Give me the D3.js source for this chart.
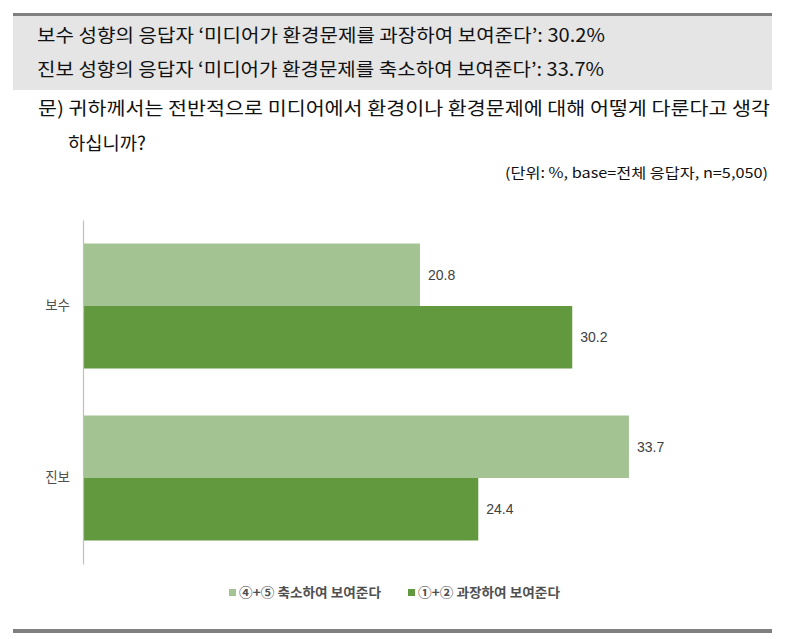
<!DOCTYPE html>
<html><head><meta charset="utf-8">
<script src="https://cdn.jsdelivr.net/npm/d3@7"></script>
<style>
html,body{margin:0;padding:0;background:#fff;}
svg{display:block;font-family:"Noto Sans CJK KR","Noto Sans",sans-serif;}
</style></head>
<body>
<script>
const categories = ["보수", "진보"];
const seriesNames = ["④+⑤ 축소하여 보여준다", "①+② 과장하여 보여준다"];
const reduceValues = [20.8, 33.7];
const exaggerateValues = [30.2, 24.4];
const headerLines = [
  "보수 성향의 응답자 ‘미디어가 환경문제를 과장하여 보여준다’: 30.2%",
  "진보 성향의 응답자 ‘미디어가 환경문제를 축소하여 보여준다’: 33.7%"
];
const questionLines = [
  "문) 귀하께서는 전반적으로 미디어에서 환경이나 환경문제에 대해 어떻게 다룬다고 생각",
  "하십니까?"
];
const unitNote = "(단위: %, base=전체 응답자, n=5,050)";

const W = 787, H = 639;
const colors = ["#a3c492", "#62993e"];
const svg = d3.select("body").append("svg").attr("width", W).attr("height", H);

// header box
svg.append("rect").attr("x", 13).attr("y", 16).attr("width", 759).attr("height", 74).attr("fill", "#e5e5e5");
svg.append("rect").attr("x", 13).attr("y", 13).attr("width", 759).attr("height", 3).attr("fill", "#808080");
svg.append("rect").attr("x", 13).attr("y", 629).attr("width", 759).attr("height", 4).attr("fill", "#808080");

const headerY = [42, 76];
const headerW = [568, 567];
headerLines.forEach((t, i) => {
  svg.append("text").attr("x", 37).attr("y", headerY[i]).attr("font-size", 18.5)
    .attr("fill", "#111").attr("textLength", headerW[i]).attr("lengthAdjust", "spacingAndGlyphs").text(t);
});
svg.append("text").attr("x", 38).attr("y", 115).attr("font-size", 18.5).attr("fill", "#111")
  .attr("textLength", 732).attr("lengthAdjust", "spacingAndGlyphs").text(questionLines[0]);
svg.append("text").attr("x", 68).attr("y", 150).attr("font-size", 18.5).attr("fill", "#111")
  .attr("textLength", 78).attr("lengthAdjust", "spacingAndGlyphs").text(questionLines[1]);
svg.append("text").attr("x", 768).attr("y", 178).attr("font-size", 14).attr("fill", "#111")
  .attr("text-anchor", "end").attr("textLength", 263).attr("lengthAdjust", "spacingAndGlyphs").text(unitNote);

// chart
const x = d3.scaleLinear().domain([0, 40]).range([83, 731]);
const y = d3.scaleBand().domain(categories).range([220, 564]).paddingInner(0.2733).paddingOuter(0.1367);
const y1 = d3.scaleBand().domain([0, 1]).range([0, y.bandwidth()]);

const data = categories.map((c, i) => ({ cat: c, vals: [reduceValues[i], exaggerateValues[i]] }));

const g = svg.append("g");
data.forEach(d => {
  d.vals.forEach((v, j) => {
    g.append("rect").attr("x", x(0)).attr("y", y(d.cat) + y1(j))
      .attr("width", x(v) - x(0)).attr("height", y1.bandwidth()).attr("fill", colors[j]);
    g.append("text").attr("x", x(v) + 8).attr("y", y(d.cat) + y1(j) + y1.bandwidth() / 2)
      .attr("dy", "0.35em").attr("font-size", 14).attr("font-family", "\"Liberation Sans\",Arial,sans-serif")
      .attr("fill", "#404040").text(v.toFixed(1));
  });
});

// y axis
const yAxis = d3.axisLeft(y).tickSize(0).tickPadding(13);
const ag = svg.append("g").attr("transform", `translate(${x(0)},0)`).call(yAxis);
ag.select(".domain").attr("stroke", "#bfbfbf").attr("stroke-width", 1.2);
ag.selectAll("text").attr("font-size", 13.5).attr("fill", "#505050")
  .attr("font-family", "\"Noto Sans CJK KR\",sans-serif");

// legend
const legX = [229, 408];
seriesNames.forEach((n, j) => {
  svg.append("rect").attr("x", legX[j]).attr("y", 589).attr("width", 7).attr("height", 7).attr("fill", colors[j]);
  svg.append("text").attr("x", legX[j] + 10).attr("y", 592).attr("dy", "0.35em").attr("font-size", 13)
    .attr("font-weight", "bold").attr("fill", "#505050")
    .attr("textLength", 142).attr("lengthAdjust", "spacingAndGlyphs").text(n);
});
</script>
</body></html>
